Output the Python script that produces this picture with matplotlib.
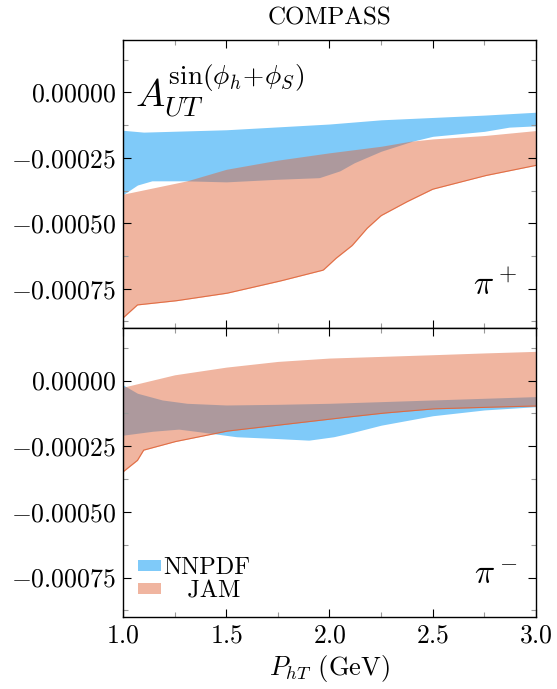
import numpy as np
import matplotlib
matplotlib.use('AGG')
import matplotlib.pyplot as plt
from matplotlib.ticker import MultipleLocator, FuncFormatter

plt.rcParams['font.family'] = 'serif'
plt.rcParams['font.serif'] = ['cmr10']
plt.rcParams['mathtext.fontset'] = 'cm'
plt.rcParams['axes.formatter.use_mathtext'] = True

# ---- data ----
# pi+ panel
nn_pp_x_hi = [1.0, 1.1, 1.5, 2.0, 2.25, 2.5, 2.75, 3.0]
nn_pp_hi = [-0.000145, -0.000152, -0.000143, -0.000121, -0.000105, -0.000096, -0.000087, -0.000076]
nn_pp_x_lo = [1.0, 1.07, 1.14, 1.3, 1.5, 1.75, 1.95, 2.05, 2.12, 2.25, 2.4, 2.5, 2.75, 2.87, 3.0]
nn_pp_lo = [-0.000391, -0.000354, -0.000338, -0.000338, -0.000342, -0.000332, -0.000326, -0.000300,
            -0.000269, -0.000225, -0.000187, -0.000168, -0.000149, -0.000133, -0.000128]

jam_pp_x_hi = [1.0, 1.31, 1.5, 1.75, 2.0, 2.25, 2.39, 2.5, 2.75, 3.0]
jam_pp_hi = [-0.000389, -0.000338, -0.000294, -0.000259, -0.000231, -0.000206, -0.000187, -0.000178,
             -0.000165, -0.000146]
jam_pp_x_lo = [1.0, 1.07, 1.25, 1.5, 1.75, 1.97, 2.03, 2.11, 2.18, 2.25, 2.37, 2.5, 2.75, 3.0]
jam_pp_lo = [-0.000862, -0.000812, -0.000797, -0.000768, -0.000723, -0.000679, -0.000635, -0.000585,
             -0.000521, -0.000471, -0.000420, -0.000370, -0.000319, -0.000279]

# pi- panel
nn_pm_x_hi = [1.0, 1.07, 1.19, 1.31, 1.5, 1.75, 2.0, 2.25, 2.5, 2.75, 3.0]
nn_pm_hi = [-0.0000166, -0.0000485, -0.000074, -0.0000867, -0.0000931, -0.0000906, -0.0000867,
            -0.0000804, -0.000074, -0.0000676, -0.0000612]
nn_pm_x_lo = [1.0, 1.145, 1.27, 1.37, 1.55, 1.75, 1.9, 2.02, 2.11, 2.25, 2.5, 2.75, 3.0]
nn_pm_lo = [-0.000208, -0.000193, -0.000185, -0.000195, -0.000214, -0.000221, -0.000227, -0.000214,
            -0.000198, -0.000170, -0.000134, -0.000112, -0.0000995]

jam_pm_x_hi = [1.0, 1.25, 1.5, 1.75, 2.0, 2.25, 2.5, 2.75, 3.0]
jam_pm_hi = [-0.0000255, 0.0000217, 0.000051, 0.0000727, 0.0000855, 0.0000918, 0.0000982, 0.000105, 0.000111]
jam_pm_x_lo = [1.0, 1.07, 1.1, 1.25, 1.5, 1.75, 2.0, 2.25, 2.5, 2.75, 3.0]
jam_pm_lo = [-0.000348, -0.000304, -0.000265, -0.000233, -0.000193, -0.000170, -0.000147, -0.000125,
             -0.000108, -0.000102, -0.000097]

labels = ['NNPDF', '   JAM']
hadrons = [r'$\pi^+$', r'$\pi^-$']

blue = '#7fcaf9'
red = '#e0663b'


def band(ax, xh, yh, xl, yl, color, alpha, edge=False, label=None):
    xs = np.linspace(1.0, 3.0, 400)
    hi = np.interp(xs, xh, yh)
    lo = np.interp(xs, xl, yl)
    ax.fill_between(xs, lo, hi, color=color, alpha=alpha, lw=0, label=label)
    if edge:
        ax.plot(xs, lo, color=red, lw=0.8, alpha=0.9)


fig = plt.figure(figsize=(5.57, 6.89), dpi=100)
ax1 = fig.add_axes([0.2208, 0.524, 0.7415, 0.418])
ax2 = fig.add_axes([0.2208, 0.1045, 0.7415, 0.4195], sharex=ax1)

band(ax1, nn_pp_x_hi, nn_pp_hi, nn_pp_x_lo, nn_pp_lo, blue, 1.0)
band(ax1, jam_pp_x_hi, jam_pp_hi, jam_pp_x_lo, jam_pp_lo, red, 0.484, edge=True)
band(ax2, nn_pm_x_hi, nn_pm_hi, nn_pm_x_lo, nn_pm_lo, blue, 1.0, label=labels[0])
band(ax2, jam_pm_x_hi, jam_pm_hi, jam_pm_x_lo, jam_pm_lo, red, 0.484, edge=True, label=labels[1])

fmt = FuncFormatter(lambda v, p: r'$%.5f$' % (0.0 if abs(v) < 1e-12 else v))
for ax, h in zip([ax1, ax2], hadrons):
    ax.set_xlim(1.0, 3.0)
    ax.set_ylim(-0.0009, 0.0002)
    ax.xaxis.set_major_locator(MultipleLocator(0.5))
    ax.xaxis.set_minor_locator(MultipleLocator(0.25))
    ax.yaxis.set_major_locator(MultipleLocator(0.00025))
    ax.yaxis.set_minor_locator(MultipleLocator(0.000125))
    ax.yaxis.set_major_formatter(fmt)
    ax.tick_params(which='both', direction='in', top=True, right=True, labelsize=18.5, pad=5)
    ax.tick_params(which='major', length=6, width=0.8)
    ax.tick_params(which='minor', length=3.5, width=0.8, color='0.6')
    for s in ax.spines.values():
        s.set_linewidth(1.0)
    ax.text(0.955, 0.115, h, transform=ax.transAxes, fontsize=24, ha='right', va='baseline')

ax1.tick_params(labelbottom=False)
ax2.xaxis.set_major_formatter(FuncFormatter(lambda v, p: r'$%.1f$' % v))
ax1.set_title('COMPASS', fontsize=18, pad=11)
ax1.text(0.03, 0.765, r'$A_{UT}^{\sin(\phi_h\!+\!\phi_S)}$', transform=ax1.transAxes, fontsize=28,
         va='baseline')
ax2.set_xlabel(r'$P_{hT}$ (GeV)', fontsize=19, labelpad=4)

ax2.legend(loc='lower left', frameon=False, fontsize=17.5, handlelength=0.95, handleheight=0.35,
           handletextpad=0.1, borderaxespad=0.3, labelspacing=0.05, borderpad=0.3)

plt.savefig('out.png', dpi=100)
